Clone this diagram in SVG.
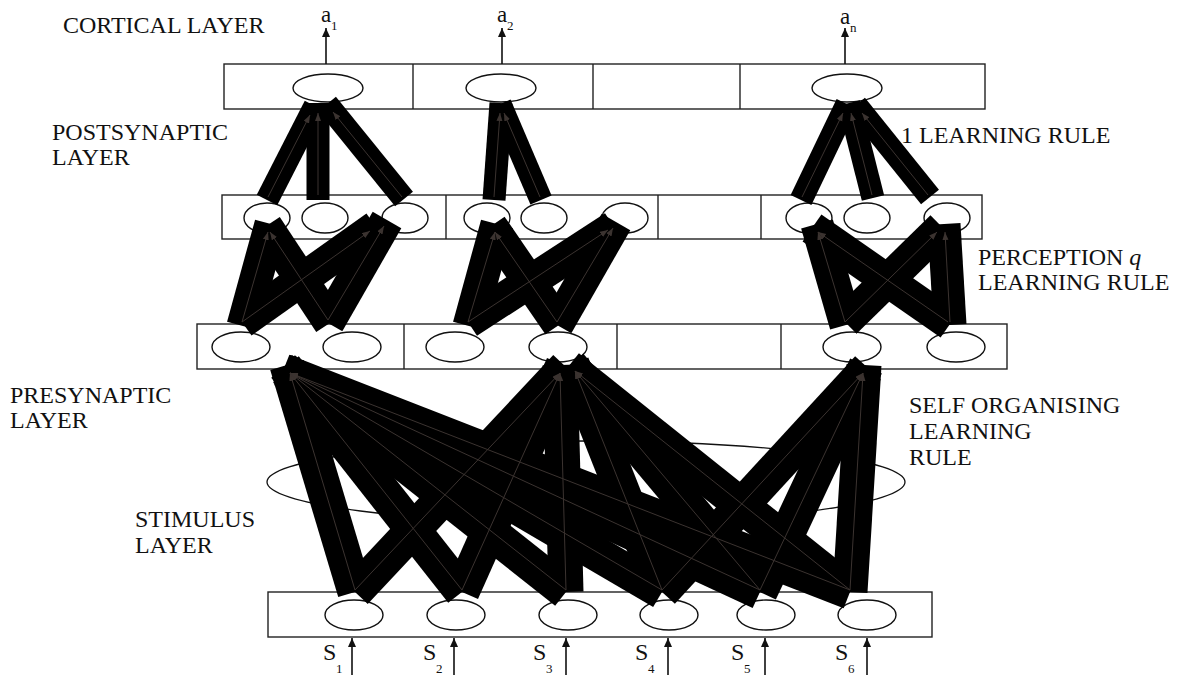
<svg xmlns="http://www.w3.org/2000/svg" width="1180" height="679" viewBox="0 0 1180 679">
<style>
.box{fill:#fff;stroke:#222;stroke-width:1.4}
.div{stroke:#222;stroke-width:1.4}
.neu{fill:#fff;stroke:#111;stroke-width:1.4}
.big{fill:none;stroke:#111;stroke-width:1.3}
.lbl{font-family:"Liberation Serif","Times New Roman",serif;font-size:24px;fill:#111}
.sym{font-family:"Liberation Serif","Times New Roman",serif;font-size:23px;fill:#111}
.sub{font-family:"Liberation Serif","Times New Roman",serif;font-size:13px;fill:#111}
.thick{stroke:#000;stroke-width:33;stroke-linecap:butt;stroke-linejoin:miter;fill:none}
.tc{stroke-width:23}
.tb{stroke-width:35}
.thin{stroke:#3b3330;stroke-width:1;fill:none;marker-end:url(#th)}
.io{stroke:#111;stroke-width:1.6;fill:none;marker-end:url(#ah)}
</style>
<defs>
<marker id="th" markerUnits="userSpaceOnUse" markerWidth="9" markerHeight="7" refX="8" refY="3" orient="auto"><path d="M0,0 L8,3 L0,6 z" fill="#3b3330"/></marker>
<marker id="ah" markerUnits="userSpaceOnUse" markerWidth="10" markerHeight="9" refX="9" refY="4" orient="auto"><path d="M0,0 L9,4 L0,8 z" fill="#111"/></marker>
</defs>
<rect width="1180" height="679" fill="#fff"/>

<g id="labels">
<text class="lbl" x="63" y="33">CORTICAL LAYER</text>
<text class="lbl" x="52" y="140">POSTSYNAPTIC</text>
<text class="lbl" x="52" y="165">LAYER</text>
<text class="lbl" x="901" y="143">1 LEARNING RULE</text>
<text class="lbl" x="978" y="265">PERCEPTION <tspan font-style="italic">q</tspan></text>
<text class="lbl" x="978" y="290">LEARNING RULE</text>
<text class="lbl" x="10" y="403">PRESYNAPTIC</text>
<text class="lbl" x="10" y="428">LAYER</text>
<text class="lbl" x="909" y="413">SELF ORGANISING</text>
<text class="lbl" x="909" y="439">LEARNING</text>
<text class="lbl" x="909" y="465">RULE</text>
<text class="lbl" x="135" y="527">STIMULUS</text>
<text class="lbl" x="135" y="553">LAYER</text>
<text class="sym" x="321" y="22">a</text><text class="sub" x="331" y="30">1</text>
<text class="sym" x="497" y="22">a</text><text class="sub" x="507" y="30">2</text>
<text class="sym" x="840" y="24">a</text><text class="sub" x="850" y="32">n</text>
<text class="lbl" x="323" y="660">S</text><text class="sub" x="336" y="673">1</text>
<text class="lbl" x="423" y="660">S</text><text class="sub" x="436" y="673">2</text>
<text class="lbl" x="533" y="660">S</text><text class="sub" x="546" y="673">3</text>
<text class="lbl" x="635" y="660">S</text><text class="sub" x="648" y="673">4</text>
<text class="lbl" x="731" y="660">S</text><text class="sub" x="744" y="673">5</text>
<text class="lbl" x="835" y="660">S</text><text class="sub" x="848" y="673">6</text>
</g>

<g id="cortical-layer">
<rect class="box" x="224" y="64" width="761" height="45"/>
<line class="div" x1="413" y1="64" x2="413" y2="109"/>
<line class="div" x1="593" y1="64" x2="593" y2="109"/>
<line class="div" x1="740" y1="64" x2="740" y2="109"/>
<g id="c1"><ellipse class="neu" cx="328" cy="88" rx="35" ry="14"/></g>
<g id="c2"><ellipse class="neu" cx="501" cy="88" rx="35" ry="14"/></g>
<g id="cn"><ellipse class="neu" cx="847" cy="88" rx="35" ry="14"/></g>
</g>

<g id="postsynaptic-layer">
<rect class="box" x="222" y="195" width="760" height="44"/>
<line class="div" x1="446" y1="195" x2="446" y2="239"/>
<line class="div" x1="658" y1="195" x2="658" y2="239"/>
<line class="div" x1="761" y1="195" x2="761" y2="239"/>
<g id="p1"><ellipse class="neu" cx="267" cy="218" rx="23" ry="15"/></g>
<g id="p2"><ellipse class="neu" cx="325" cy="218" rx="23" ry="15"/></g>
<g id="p3"><ellipse class="neu" cx="405" cy="218" rx="23" ry="15"/></g>
<g id="p4"><ellipse class="neu" cx="487" cy="218" rx="23" ry="15"/></g>
<g id="p5"><ellipse class="neu" cx="544" cy="218" rx="23" ry="15"/></g>
<g id="p6"><ellipse class="neu" cx="625" cy="218" rx="23" ry="15"/></g>
<g id="p7"><ellipse class="neu" cx="809" cy="218" rx="23" ry="15"/></g>
<g id="p8"><ellipse class="neu" cx="867" cy="218" rx="23" ry="15"/></g>
<g id="p9"><ellipse class="neu" cx="947" cy="218" rx="23" ry="15"/></g>
</g>

<g id="presynaptic-layer">
<rect class="box" x="197" y="324" width="810" height="45"/>
<line class="div" x1="404" y1="324" x2="404" y2="369"/>
<line class="div" x1="617" y1="324" x2="617" y2="369"/>
<line class="div" x1="781" y1="324" x2="781" y2="369"/>
<g id="q1"><ellipse class="neu" cx="241" cy="347" rx="29" ry="15"/></g>
<g id="q2"><ellipse class="neu" cx="352" cy="347" rx="29" ry="15"/></g>
<g id="q3"><ellipse class="neu" cx="455" cy="347" rx="29" ry="15"/></g>
<g id="q4"><ellipse class="neu" cx="558" cy="347" rx="29" ry="15"/></g>
<g id="q5"><ellipse class="neu" cx="852" cy="347" rx="29" ry="15"/></g>
<g id="q6"><ellipse class="neu" cx="956" cy="347" rx="29" ry="15"/></g>
</g>

<g id="self-organising-region"><ellipse class="big" cx="586" cy="482" rx="319" ry="41"/></g>

<g id="stimulus-layer">
<rect class="box" x="268" y="592" width="664" height="45"/>
<g id="s1"><ellipse class="neu" cx="354" cy="615" rx="29" ry="15"/></g>
<g id="s2"><ellipse class="neu" cx="456" cy="615" rx="29" ry="15"/></g>
<g id="s3"><ellipse class="neu" cx="568" cy="615" rx="29" ry="15"/></g>
<g id="s4"><ellipse class="neu" cx="669" cy="615" rx="29" ry="15"/></g>
<g id="s5"><ellipse class="neu" cx="766" cy="615" rx="29" ry="15"/></g>
<g id="s6"><ellipse class="neu" cx="867" cy="615" rx="29" ry="15"/></g>
</g>

<g id="connectors">
<g id="thick">
<line class="thick tc" x1="267" y1="200" x2="315" y2="106"/>
<line class="thick tc" x1="318" y1="200" x2="318" y2="103"/>
<line class="thick tc" x1="404" y1="199" x2="327" y2="104"/>
<line class="thick tc" x1="494" y1="200" x2="501" y2="103"/>
<line class="thick tc" x1="541" y1="200" x2="500" y2="104"/>
<line class="thick tc" x1="801" y1="200" x2="847" y2="104"/>
<line class="thick tc" x1="873" y1="198" x2="849" y2="103"/>
<line class="thick tc" x1="930" y1="197" x2="856" y2="105"/>

<line class="thick" x1="243" y1="326" x2="271" y2="224"/>
<line class="thick" x1="242" y1="322" x2="376" y2="227"/>
<line class="thick" x1="330" y1="323" x2="266" y2="226"/>
<line class="thick" x1="328" y1="323" x2="387" y2="220"/>
<line class="thick" x1="469" y1="326" x2="497" y2="224"/>
<line class="thick" x1="468" y1="322" x2="614" y2="227"/>
<line class="thick" x1="559" y1="325" x2="491" y2="226"/>
<line class="thick" x1="557" y1="325" x2="616" y2="222"/>
<line class="thick" x1="846" y1="325" x2="817" y2="224"/>
<line class="thick" x1="845" y1="322" x2="942" y2="227"/>
<line class="thick" x1="950" y1="324" x2="812" y2="228"/>
<line class="thick" x1="950" y1="325" x2="944" y2="224"/>

<line class="thick tb" x1="355" y1="592" x2="287" y2="365"/>
<line class="thick tb" x1="462" y1="592" x2="285" y2="367"/>
<line class="thick tb" x1="566" y1="592" x2="284" y2="369"/>
<line class="thick tb" x1="662" y1="592" x2="283" y2="370"/>
<line class="thick tb" x1="760" y1="592" x2="283" y2="371"/>
<line class="thick tb" x1="850" y1="592" x2="283" y2="371"/>
<line class="thick tb" x1="355" y1="592" x2="566" y2="367"/>
<line class="thick tb" x1="462" y1="592" x2="563" y2="365"/>
<line class="thick tb" x1="566" y1="592" x2="560" y2="365"/>
<line class="thick tb" x1="662" y1="592" x2="572" y2="364"/>
<line class="thick tb" x1="760" y1="592" x2="570" y2="365"/>
<line class="thick tb" x1="850" y1="592" x2="568" y2="367"/>
<line class="thick tb" x1="662" y1="592" x2="868" y2="368"/>
<line class="thick tb" x1="760" y1="592" x2="866" y2="366"/>
<line class="thick tb" x1="850" y1="592" x2="864" y2="365"/>
</g>
<g id="thin">
<line class="thin" x1="268" y1="197" x2="310" y2="115"/>
<line class="thin" x1="318" y1="195" x2="318" y2="113"/>
<line class="thin" x1="402" y1="197" x2="333" y2="112"/>
<line class="thin" x1="494" y1="197" x2="500" y2="113"/>
<line class="thin" x1="540" y1="197" x2="504" y2="113"/>
<line class="thin" x1="802" y1="197" x2="843" y2="113"/>
<line class="thin" x1="872" y1="195" x2="851" y2="113"/>
<line class="thin" x1="928" y1="195" x2="862" y2="113"/>

<line class="thin" x1="242" y1="322" x2="268" y2="232"/>
<line class="thin" x1="242" y1="322" x2="370" y2="231"/>
<line class="thin" x1="328" y1="320" x2="270" y2="232"/>
<line class="thin" x1="328" y1="320" x2="384" y2="226"/>
<line class="thin" x1="468" y1="322" x2="495" y2="232"/>
<line class="thin" x1="468" y1="322" x2="608" y2="230"/>
<line class="thin" x1="557" y1="322" x2="495" y2="232"/>
<line class="thin" x1="557" y1="322" x2="613" y2="228"/>
<line class="thin" x1="845" y1="322" x2="818" y2="232"/>
<line class="thin" x1="845" y1="322" x2="937" y2="232"/>
<line class="thin" x1="948" y1="322" x2="818" y2="232"/>
<line class="thin" x1="950" y1="322" x2="945" y2="232"/>

<line class="thin" x1="355" y1="590" x2="290" y2="373"/>
<line class="thin" x1="462" y1="590" x2="290" y2="373"/>
<line class="thin" x1="566" y1="590" x2="290" y2="373"/>
<line class="thin" x1="662" y1="590" x2="290" y2="373"/>
<line class="thin" x1="760" y1="590" x2="290" y2="373"/>
<line class="thin" x1="850" y1="590" x2="290" y2="373"/>
<line class="thin" x1="355" y1="590" x2="560" y2="373"/>
<line class="thin" x1="462" y1="590" x2="560" y2="373"/>
<line class="thin" x1="566" y1="590" x2="560" y2="373"/>
<line class="thin" x1="662" y1="590" x2="575" y2="371"/>
<line class="thin" x1="760" y1="590" x2="575" y2="371"/>
<line class="thin" x1="850" y1="590" x2="575" y2="371"/>
<line class="thin" x1="662" y1="590" x2="863" y2="373"/>
<line class="thin" x1="760" y1="590" x2="863" y2="373"/>
<line class="thin" x1="850" y1="590" x2="863" y2="373"/>
</g>
<g id="io">
<line class="io" x1="326" y1="64" x2="326" y2="28"/>
<line class="io" x1="502" y1="64" x2="502" y2="28"/>
<line class="io" x1="845" y1="64" x2="845" y2="28"/>
<line class="io" x1="352" y1="675" x2="352" y2="638"/>
<line class="io" x1="454" y1="675" x2="454" y2="638"/>
<line class="io" x1="566" y1="675" x2="566" y2="638"/>
<line class="io" x1="668" y1="675" x2="668" y2="638"/>
<line class="io" x1="765" y1="675" x2="765" y2="638"/>
<line class="io" x1="867" y1="675" x2="867" y2="638"/>
</g>
</g>
</svg>
